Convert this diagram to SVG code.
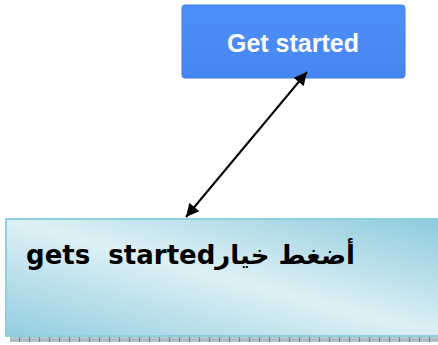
<svg xmlns="http://www.w3.org/2000/svg" width="438" height="345" viewBox="0 0 438 345">
<defs>
<linearGradient id="btn" x1="0" y1="0" x2="0" y2="1">
<stop offset="0" stop-color="#4d8ffa"/>
<stop offset="1" stop-color="#4686f0"/>
</linearGradient>
<linearGradient id="box" x1="1" y1="0" x2="0" y2="1">
<stop offset="0" stop-color="#8ccbdc"/>
<stop offset="0.5" stop-color="#def0f6"/>
<stop offset="1" stop-color="#92cedf"/>
</linearGradient>
<pattern id="dash" x="0" y="0" width="10" height="5" patternUnits="userSpaceOnUse">
<rect x="0" y="0" width="10" height="5" fill="#a9bcc3"/>
<rect x="9" y="0" width="1" height="5" fill="#6f8790"/>
<rect x="1" y="1" width="7" height="3" fill="#b9c8cd"/>
</pattern>
<marker id="ah" viewBox="0 0 10 10" refX="10" refY="5" markerWidth="7.5" markerHeight="6.5" orient="auto-start-reverse" markerUnits="strokeWidth">
<path d="M0,0 L10,5 L0,10 z" fill="#000"/>
</marker>
<style>
.btntext{font-family:"Liberation Sans",Arial,sans-serif;font-weight:bold;font-size:25px;fill:#fff}
.boxtext{font-family:"DejaVu Sans",sans-serif;font-weight:bold;font-size:26px;fill:#000;white-space:pre}
</style>
</defs>
<g id="button">
<rect x="182" y="5" width="223" height="73" rx="3" fill="url(#btn)" stroke="#3f7fe8" stroke-width="1"/>
<text class="btntext" x="293" y="52" text-anchor="middle">Get started</text>
</g>
<g id="box-node">
<rect x="10" y="337" width="428" height="5" fill="url(#dash)"/>
<rect x="6" y="219" width="436" height="117" fill="url(#box)" stroke="#8fd0e0" stroke-width="2"/>
<text class="boxtext" x="355" y="264" direction="rtl" unicode-bidi="embed" text-anchor="start" xml:space="preserve">أضغط خيارgets  started</text>
</g>
<g id="connectors">
<line x1="307" y1="72" x2="186" y2="217" stroke="#000" stroke-width="2" marker-start="url(#ah)" marker-end="url(#ah)"/>
</g>
</svg>
